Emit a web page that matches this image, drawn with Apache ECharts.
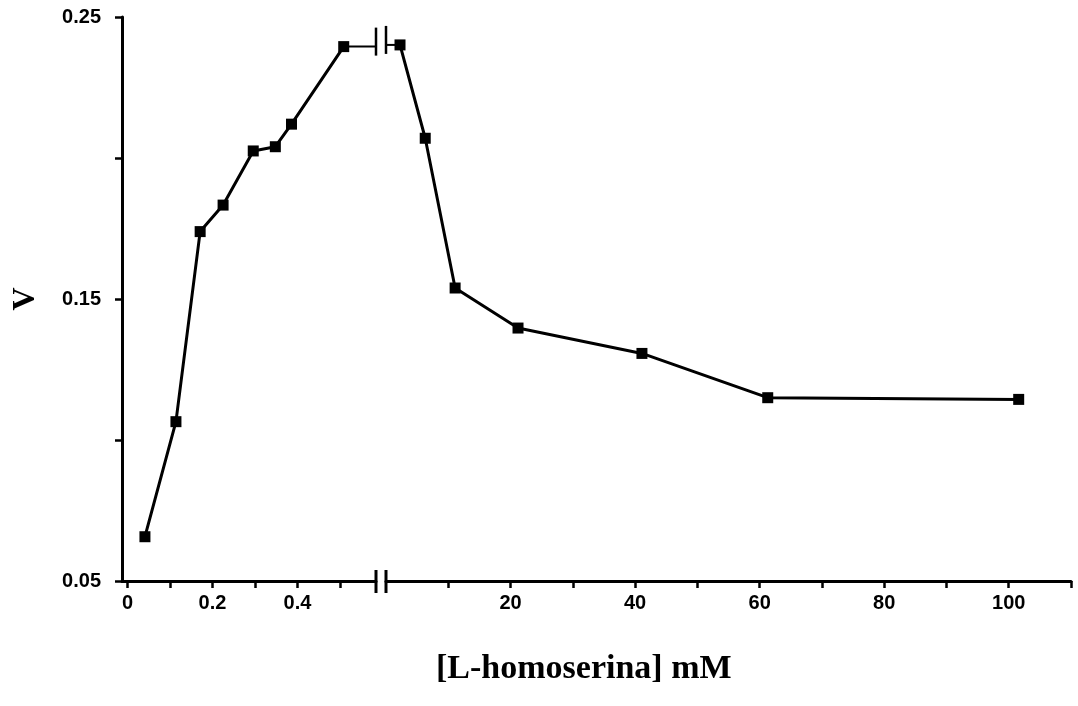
<!DOCTYPE html>
<html>
<head>
<meta charset="utf-8">
<script src="https://cdn.jsdelivr.net/npm/echarts@6/dist/echarts.min.js"></script>
<style>html,body{margin:0;padding:0;background:#fff}#c{width:1078px;height:706px}</style>
</head>
<body>
<div id="c"></div>
<script>
// Low-concentration segment (mM) and rates
const lowConc = [0.041, 0.114, 0.171, 0.225, 0.296, 0.348, 0.386, 0.509];
const lowV    = [0.0657, 0.1065, 0.1739, 0.1833, 0.2025, 0.2040, 0.2120, 0.2395];
// High-concentration segment (mM) and rates
const highConc = [2.25, 6.3, 11.1, 21.2, 41.1, 61.3, 101.6];
const highV    = [0.2401, 0.2070, 0.1539, 0.1397, 0.1307, 0.1150, 0.1144];
// Tick values
const yTicks = [0.05, 0.10, 0.15, 0.20, 0.25];
const yLabels = [0.05, 0.15, 0.25];
const lowTicks = [0, 0.1, 0.2, 0.3, 0.4, 0.5];
const lowLabels = [0, 0.2, 0.4];
const highTicks = [10, 20, 30, 40, 50, 60, 70, 80, 90, 100, 110];
const highLabels = [20, 40, 60, 80, 100];
const yMin = 0.05, yMax = 0.25;
const lowMin = -0.013, lowMax = 0.585;
const highMin = 0, highMax = 110;

const chart = echarts.init(document.getElementById('c'));
const tickFont = {color: '#000', fontFamily: 'Liberation Sans, Arial, sans-serif', fontWeight: 'bold', fontSize: 20};
const axisLine = {show: true, onZero: false, lineStyle: {color: '#000', width: 3}};
const zip = (xs, ys) => xs.map((x, i) => [x, ys[i]]);

chart.setOption({
  animation: false,
  backgroundColor: '#fff',
  title: {
    text: '[L-homoserina] mM', left: 431, top: 647,
    textStyle: {fontFamily: 'Liberation Serif, Times New Roman, serif', fontWeight: 'bold', fontSize: 34, color: '#000'}
  },
  grid: [
    {left: 122, top: 17, width: 254, height: 564, outerBoundsMode: 'none', containLabel: false},
    {left: 386, top: 17, width: 685, height: 564, outerBoundsMode: 'none', containLabel: false}
  ],
  xAxis: [
    {gridIndex: 0, type: 'value', min: lowMin, max: lowMax,
     axisLine: axisLine,
     axisTick: {show: true, customValues: lowTicks, length: 7, lineStyle: {color: '#000', width: 2.5}},
     axisLabel: Object.assign({customValues: lowLabels, margin: 12, formatter: v => String(v)}, tickFont),
     splitLine: {show: false}},
    {gridIndex: 1, type: 'value', min: highMin, max: highMax,
     axisLine: axisLine,
     axisTick: {show: true, customValues: highTicks, length: 7, lineStyle: {color: '#000', width: 2.5}},
     axisLabel: Object.assign({customValues: highLabels, margin: 12, formatter: v => String(v)}, tickFont),
     splitLine: {show: false}}
  ],
  yAxis: [
    {gridIndex: 0, type: 'value', min: yMin, max: yMax, interval: 0.05,
     name: 'V', nameLocation: 'middle', nameRotate: 90, nameGap: 80,
     nameTextStyle: {fontFamily: 'Liberation Serif, Times New Roman, serif', fontWeight: 'bold', fontSize: 32, color: '#000'},
     axisLine: axisLine,
     axisTick: {show: true, customValues: yTicks, length: 7, lineStyle: {color: '#000', width: 2.5}},
     axisLabel: Object.assign({customValues: yLabels, margin: 21, formatter: v => v.toFixed(2)}, tickFont),
     splitLine: {show: false}},
    {gridIndex: 1, type: 'value', min: yMin, max: yMax, show: false, splitLine: {show: false}}
  ],
  series: [
    {type: 'line', xAxisIndex: 0, yAxisIndex: 0, data: zip(lowConc, lowV),
     symbol: 'rect', symbolSize: 11, lineStyle: {color: '#000', width: 3}, itemStyle: {color: '#000'}},
    {type: 'line', xAxisIndex: 1, yAxisIndex: 1, data: zip(highConc, highV),
     symbol: 'rect', symbolSize: 11, lineStyle: {color: '#000', width: 3}, itemStyle: {color: '#000'}}
  ]
});

// Break decorations derived from the axes' own scales
const last = lowConc.length - 1;
const pLast = chart.convertToPixel({gridIndex: 0}, [lowConc[last], lowV[last]]);
const pEdgeL = chart.convertToPixel({gridIndex: 0}, [lowMax, lowV[last]]);
const pEdgeR = chart.convertToPixel({gridIndex: 1}, [highMin, highV[0]]);
const pFirst = chart.convertToPixel({gridIndex: 1}, [highConc[0], highV[0]]);
const aL = chart.convertToPixel({gridIndex: 0}, [lowMax, yMin]);
const aR = chart.convertToPixel({gridIndex: 1}, [highMin, yMin]);
const seg = (x1, y1, x2, y2, w) => ({type: 'line', z: 100, shape: {x1, y1, x2, y2}, style: {stroke: '#000', lineWidth: w}});
chart.setOption({
  graphic: [
    seg(pLast[0], pLast[1], pEdgeL[0], pEdgeL[1], 2),
    seg(pEdgeR[0], pEdgeR[1], pFirst[0], pFirst[1], 2),
    seg(pEdgeL[0], pEdgeL[1] - 19, pEdgeL[0], pEdgeL[1] + 9, 2.5),
    seg(pEdgeR[0], pEdgeR[1] - 19, pEdgeR[0], pEdgeR[1] + 9, 2.5),
    seg(aL[0], aL[1] - 11, aL[0], aL[1] + 12, 3),
    seg(aR[0], aR[1] - 11, aR[0], aR[1] + 12, 3)
  ]
});
</script>
</body>
</html>
